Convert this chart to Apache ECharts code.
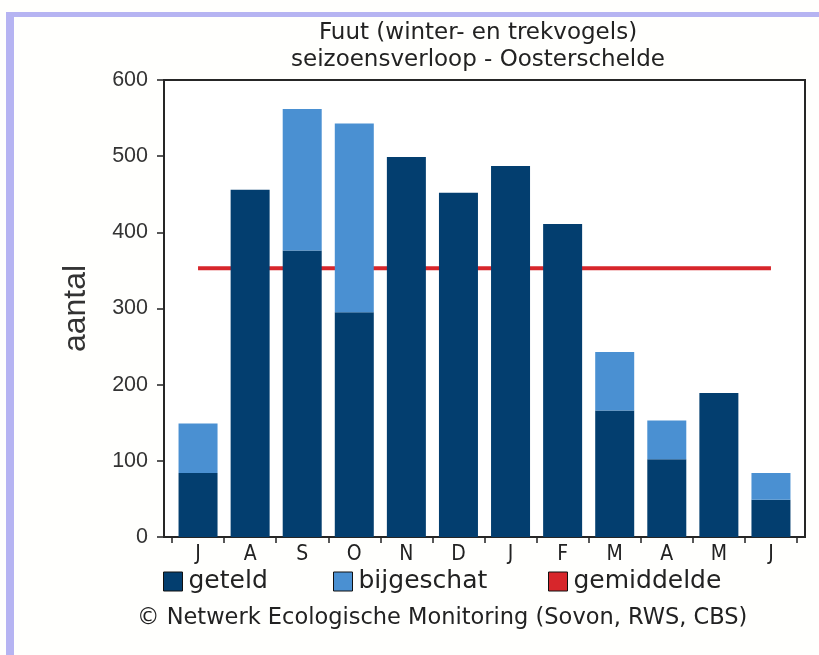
<!DOCTYPE html>
<html><head><meta charset="utf-8">
<script src="https://cdn.jsdelivr.net/npm/echarts@6/dist/echarts.min.js"></script>
<style>html,body{margin:0;padding:0;background:#fffffd;}#c{width:819px;height:655px;}</style>
</head><body><div id="c"></div>
<script>
var categories = ['J','A','S','O','N','D','J','F','M','A','M','J'];
var geteld = [84, 456, 376, 295, 499, 452, 487, 411, 166, 102, 189, 49];
var bijgeschat = [65, 0, 186, 248, 0, 0, 0, 0, 77, 51, 0, 35];
var gemiddelde = [353, 353, 353, 353, 353, 353, 353, 353, 353, 353, 353, 353];
var yTicks = {min: 0, max: 600, interval: 100};
var titleLines = 'Fuut (winter- en trekvogels)\nseizoensverloop - Oosterschelde';
var credit = '\u00A9 Netwerk Ecologische Monitoring (Sovon, RWS, CBS)';

var F = "'DejaVu Sans',sans-serif";
var FC = "'DejaVu Sans Condensed','DejaVu Sans',sans-serif";
var A = "'Liberation Sans',Arial,sans-serif";
var cDark = '#033e6f', cLight = '#4a90d2', cRed = '#d7262b';

var chart = echarts.init(document.getElementById('c'), null, {renderer: 'canvas'});
function legendItem(name, left, color) {
  var l = {data: [{name: name, icon: 'rect'}], left: left, top: 569, padding: 0, itemWidth: 19, itemHeight: 19, itemGap: 0,
    itemStyle: {borderColor: '#111', borderWidth: 1},
    textStyle: {fontFamily: F, fontSize: 25, color: '#222', padding: [0, 0, 0, 1]}};
  if (color) { l.itemStyle.color = color; l.lineStyle = {width: 0}; }
  return l;
}
chart.setOption({
  backgroundColor: '#fffffd',
  animation: false,
  graphic: [
    {type: 'rect', left: 6, top: 12, shape: {width: 8, height: 643}, style: {fill: '#b6b4f2'}, z: 0},
    {type: 'rect', left: 6, top: 12, shape: {width: 813, height: 5}, style: {fill: '#b6b4f2'}, z: 0}
  ],
  title: [
    {text: titleLines, left: 473, textAlign: 'center', top: 15,
     textStyle: {fontFamily: F, fontSize: 23, fontWeight: 'normal', color: '#222', lineHeight: 27}},
    {text: credit, left: 132, top: 602,
     textStyle: {fontFamily: F, fontSize: 22.5, fontWeight: 'normal', color: '#222'}}
  ],
  legend: [
    legendItem('geteld', 163),
    legendItem('bijgeschat', 333),
    legendItem('gemiddelde', 548, cRed)
  ],
  grid: [
    {left: 164, right: 14, top: 80, bottom: 118, show: true, borderColor: '#262626', borderWidth: 2, backgroundColor: '#ffffff', z: 1},
    {left: 172, right: 22, top: 80, bottom: 118}
  ],
  xAxis: [
    {gridIndex: 0, type: 'value', show: false, min: 0, max: 1},
    {gridIndex: 1, type: 'category', data: categories, boundaryGap: true,
     axisLine: {show: false},
     axisTick: {show: true, length: 6, lineStyle: {color: '#222', width: 1.5}},
     axisLabel: {margin: 7, fontFamily: FC, fontSize: 21, color: '#222'}}
  ],
  yAxis: [
    {gridIndex: 0, type: 'value', show: false, min: 0, max: 1},
    {gridIndex: 1, type: 'value', min: yTicks.min, max: yTicks.max, interval: yTicks.interval, offset: 8,
     name: 'aantal', nameLocation: 'middle', nameGap: 72,
     nameTextStyle: {fontFamily: A, fontSize: 32, color: '#333'},
     axisLine: {show: false},
     axisTick: {show: true, length: 7, lineStyle: {color: '#222', width: 1.5}},
     splitLine: {show: false},
     axisLabel: {margin: 16, fontFamily: A, fontSize: 21.5, color: '#333'}}
  ],
  series: [
    {name: 'gemiddelde', type: 'line', xAxisIndex: 1, yAxisIndex: 1, data: gemiddelde, symbol: 'none',
     lineStyle: {color: cRed, width: 4}, itemStyle: {color: cRed}, z: 2},
    {name: 'geteld', type: 'bar', stack: 't', xAxisIndex: 1, yAxisIndex: 1, data: geteld, barWidth: 39,
     itemStyle: {color: cDark}, z: 3},
    {name: 'bijgeschat', type: 'bar', stack: 't', xAxisIndex: 1, yAxisIndex: 1, data: bijgeschat, barWidth: 39,
     itemStyle: {color: cLight}, z: 3}
  ]
});
</script></body></html>
